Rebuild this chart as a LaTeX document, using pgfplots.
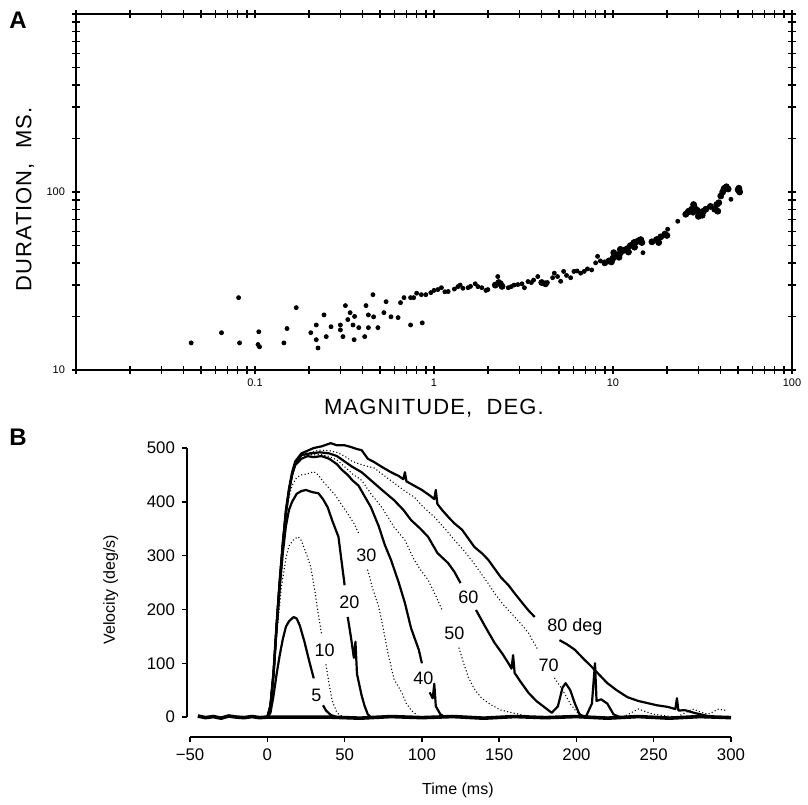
\documentclass[border=0pt]{standalone}
\usepackage{pgfplots}
\pgfplotsset{compat=1.18}
\usepackage{fontspec}
\setmainfont{Liberation Sans}
\newfontfamily\capsfont[LetterSpace=5]{Liberation Sans}

\begin{document}
\begin{tikzpicture}
\path (0,0) rectangle (404pt,-399.5pt);
\node[font=\bfseries\fontsize{12}{12}\selectfont] at (9pt,-10pt) {A};
\node[font=\bfseries\fontsize{12}{12}\selectfont] at (9pt,-218.5pt) {B};

% panel A: duration vs magnitude
\begin{axis}[
  at={(38pt,-7pt)}, anchor=north west,
  scale only axis, width=358pt, height=178pt,
  xmode=log, ymode=log,
  xmin=0.01, xmax=100, ymin=10, ymax=1000,
  xtick={0.01,0.1,1,10,100}, xticklabels={,0.1,1,10,100},
  ytick={10,100,1000}, yticklabels={10,100,},
  minor xtick={0.02,0.03,0.04,0.05,0.06,0.07,0.08,0.09,0.2,0.3,0.4,0.5,0.6,0.7,0.8,0.9,2,3,4,5,6,7,8,9,20,30,40,50,60,70,80,90},
  minor ytick={20,30,40,50,60,70,80,90,200,300,400,500,600,700,800,900},
  tick align=center, major tick length=4pt, minor tick length=4pt,
  tick style={line width=0.7pt, black},
  axis line style={line width=1pt},
  ticklabel style={font=\fontsize{5.5}{6}\selectfont},
  xticklabel style={yshift=1pt},
  xlabel={\capsfont MAGNITUDE,\ \ DEG.},
  ylabel={\capsfont DURATION,\ \ MS.},
  xlabel style={at={(axis description cs:0.5,-0.107)}, anchor=center, font=\fontsize{11}{11}\selectfont},
  ylabel style={at={(axis description cs:-0.071,0.48)}, anchor=center, font=\fontsize{11}{11}\selectfont},
]
\addplot[only marks, mark=*, mark size=1pt, black] coordinates {
 (0.081,25.5) (0.044,14.2) (0.065,16.2) (0.082,14.2) (0.105,16.4)
 (0.104,13.9) (0.106,13.5) (0.145,14.2) (0.151,17.1) (0.17,22.4)
 (0.205,16.2) (0.22,14.8) (0.225,13.3) (0.22,17.9) (0.243,20.4)
 (0.25,15.4) (0.266,17.5) (0.30,17.9) (0.31,15.4) (0.32,23)
 (0.33,19.2) (0.34,21) (0.353,17.9) (0.358,14.8) (0.38,17.3)
 (0.41,15.4) (0.417,23) (0.43,17.3) (0.43,20.4) (0.456,26.5)
 (0.46,19.9) (0.486,17.3) (0.525,21) (0.54,24.2) (0.575,19.9)
 (0.63,19.7) (0.65,23.9) (0.68,25.5) (0.74,17.9) (0.77,25.5)
 (0.86,18.4) (0.74,25.5) (0.85,26.5) (0.96,27.2) (1.05,28.3)
 (1.2,27.6) (1.36,29.4) (1.55,29) (1.76,29.4) (2.0,28.3)
 (2.27,33.5) (2.7,29.4) (2.94,30.2) (3.35,31.4) (3.8,33.5)
 (4.3,31) (4.7,35) (5.3,35.8) (6.05,35.8) (6.9,35.8)
 (8.2,43.5) (14.7,45.6) (20.2,61.8) (23,68.5) (45.6,91)
 (0.8,27) (0.9,26.5) (1.0,28) (1.1,29) (1.15,27.5) (1.3,28.5)
 (1.4,30) (1.45,28.8) (1.6,29.5) (1.7,30.5) (1.85,29) (1.95,28)
 (2.6,29) (2.8,30) (3.1,30.5) (3.2,29) (3.5,31) (3.6,32)
 (4.6,33) (4.9,33.5) (5.1,31.5) (5.5,34) (5.8,33) (6.3,36)
 (6.6,35) (7.2,37) (7.6,36.5) (8.0,40) (8.5,41) (0.36,20) (0.3,16.8)
};
\addplot[only marks, mark=*, mark size=1.5pt, black] coordinates {
 (2.2,30) (2.3,31) (2.4,29.5) (2.35,30.5) (4.0,31) (4.2,30.5)
 (9.0,40) (9.5,41) (10,42.5) (10.5,44) (11,45.5) (11.5,47) (12,48)
 (12.5,50) (13,51) (13.5,52.5) (14,53.5) (14.5,52) (9.8,40.5)
 (10.8,43) (12.2,46) (13.2,49) (10.1,45.6) (11,47.6) (13.1,52) (14.3,54)
 (16.5,52.5) (17.5,54) (18.5,56) (19.5,58) (17.8,54) (18,52) (20,57)
 (25.5,75) (26.2,77) (26.5,78) (27.5,80) (28.2,85) (28.5,82) (29.5,79)
 (30.5,76) (31,77) (31.5,74) (32,78) (33,80) (28,77) (30,73)
 (35,83) (37,80) (38,85) (39,87) (40,95) (41,100) (41.7,104)
 (42,105) (43,107) (44,104) (38.5,78) (50,103) (50.6,102) (51,100) (50.5,105)
};
\end{axis}

% panel B: velocity profiles
\begin{axis}[
  at={(93.5pt,-368.5pt)}, anchor=south west,
  scale only axis, width=272pt, height=144.5pt,
  xmin=-52, xmax=300, ymin=-37, ymax=500,
  axis lines=left, axis line style={draw=none},
  xtick={-50,0,50,100,150,200,250,300},
  xticklabels={−50,0,50,100,150,200,250,300},
  ytick={0,100,200,300,400,500},
  tick align=outside, major tick length=2.5pt,
  tick style={line width=0.7pt, black},
  ticklabel style={font=\fontsize{8.4}{9}\selectfont},
  /pgf/number format/assume math mode=true,
  xlabel={Time (ms)}, ylabel={Velocity (deg/s)},
  label style={font=\fontsize{8}{9}\selectfont},
  xlabel style={at={(axis description cs:0.498,-0.183)}, anchor=center},
  ylabel style={at={(axis description cs:-0.14,0.51)}, anchor=center},
  unbounded coords=jump,
  clip=false,
]
\draw[line width=0.75pt] (axis cs:-52,0) -- (axis cs:-52,500);
\draw[line width=0.75pt] (axis cs:-50,-37) -- (axis cs:300,-37);

\pgfplotsset{
  sol/.style={black, line width=1.1pt, line join=round},
  dot/.style={black, line width=0.75pt, line cap=round, dash pattern=on 0pt off 1.7pt},
}
% baseline
\addplot[black, line width=1.8pt] coordinates {
 (-45,2) (-40,-1) (-35,1) (-30,-2) (-25,2) (-20,0) (-15,-1) (-10,1) (-5,-1) (0,0)
 (40,0) (60,-2) (80,1) (100,-1) (120,1) (140,-2) (160,1) (180,-1) (200,1)
 (220,-2) (240,1) (260,-2) (280,1) (300,-1)
};
% 5 deg
\addplot[sol] coordinates {
 (0,0) (2,8) (4,40) (6,80) (8,115) (10,145) (12,168) (14,178) (17,186)
 (19,183) (21,170) (24,140) (27,105) (30,72) (32,nan) (36,22) (38,12) (41,4) (45,0)
};
% 10 deg
\addplot[dot] coordinates {
 (0,0) (3,40) (6,150) (9,240) (12,295) (14,318) (17,330) (20,335) (22,328)
 (25,305) (28,280) (31,230) (33,190) (35,156) (36,nan) (38,97) (40,60) (42,30) (45,8) (48,2)
};
% 20 deg
\addplot[sol] coordinates {
 (0,0) (2,20) (4,80) (6,165) (8,240) (10,305) (12,355) (14,385) (16,400)
 (19,415) (22,420) (25,422) (29,418) (33,416) (36,405) (39,390) (42,365)
 (46,335) (48,290) (50,245) (51,nan) (52,186) (54,150) (56,110) (57,140) (58,80)
 (61,40) (63,20) (65,5) (67,0)
};
% 30 deg
\addplot[dot] coordinates {
 (0,0) (2,20) (4,80) (6,168) (8,248) (10,315) (12,372) (14,410) (16,430)
 (19,445) (22,450) (26,452) (30,456) (33,450) (36,438) (40,425) (44,412)
 (48,395) (52,378) (56,360) (59,342) (62,nan) (65,273) (68,240) (72,205)
 (75,165) (78,119) (82,70) (87,45) (90,25) (93,13) (97,3)
};
% 40 deg
\addplot[sol] coordinates {
 (0,0) (2,20) (4,80) (6,170) (8,250) (10,320) (12,380) (14,420) (16,450)
 (18,468) (22,480) (26,485) (30,483) (35,485) (40,480) (45,470) (48,460)
 (52,450) (55,440) (59,430) (63,410) (67,390) (72,355) (76,320) (80,292)
 (85,250) (89,212) (93,165) (98,125) (100,100) (102,nan) (105,46) (107,35)
 (108,62) (109,20) (112,5) (115,0)
};
% 50 deg
\addplot[dot] coordinates {
 (0,0) (2,20) (4,80) (6,170) (8,250) (10,320) (12,380) (14,420) (16,450)
 (18,470) (22,485) (26,488) (30,487) (35,488) (40,484) (45,478) (50,465)
 (55,452) (61,440) (67,415) (74,390) (82,353) (89,329) (95,292) (100,270)
 (104,255) (109,225) (113,199) (118,nan) (124,128) (127,100) (130,74)
 (134,52) (138,37) (144,24) (151,13) (160,7) (168,2)
};
% 60 deg
\addplot[sol] coordinates {
 (0,0) (2,20) (4,80) (6,170) (8,250) (10,320) (12,380) (14,420) (16,450)
 (18,470) (22,487) (28,490) (34,492) (40,490) (45,485) (50,475) (55,465)
 (61,455) (69,435) (75,420) (82,403) (88,385) (93,366) (99,350) (104,335)
 (110,305) (117,286) (121,270) (125,249) (130,nan) (135,199) (141,168)
 (147,138) (152,118) (156,100) (158,90) (159,115) (160,82) (164,65) (169,45)
 (174,30) (179,19) (184,8) (188,20) (191,55) (193,63) (196,50) (199,25)
 (202,5) (206,0) (210,25) (212,100) (213,30) (216,33) (220,25) (224,5) (228,0)
};
% 70 deg
\addplot[dot] coordinates {
 (0,0) (2,20) (4,80) (6,170) (8,250) (10,320) (12,380) (14,420) (16,450)
 (18,470) (22,488) (28,492) (34,496) (40,495) (45,492) (50,485) (55,475)
 (62,468) (69,463) (75,450) (82,435) (88,422) (95,409) (101,390) (108,372)
 (115,350) (121,329) (127,310) (132,292) (138,268) (143,248) (147,230)
 (153,208) (160,186) (165,170) (169,156) (175,125) (180,nan) (186,72)
 (190,55) (193,40) (196,25) (200,10) (205,0) (230,0) (240,15) (250,5)
 (265,0) (275,15) (285,5) (292,15) (298,12)
};
% 80 deg
\addplot[sol] coordinates {
 (0,0) (2,22) (4,85) (6,175) (8,255) (10,325) (12,385) (14,425) (16,455)
 (18,475) (22,490) (26,495) (30,500) (35,503) (41,509) (45,505) (50,505)
 (54,502) (58,498) (61,496) (65,480) (69,474) (74,465) (80,455) (85,448)
 (88,442) (89,455) (90,438) (95,430) (100,422) (105,412) (108,405) (109,422)
 (110,396) (113,385) (117,372) (121,360) (126,348) (130,332) (134,316)
 (139,304) (143,292) (147,276) (151,260) (156,245) (160,230) (165,212)
 (169,198) (173,186) (180,nan) (189,143) (194,135) (199,125) (204,110)
 (210,93) (215,78) (220,63) (226,50) (233,37) (240,30) (246,26) (252,22)
 (259,19) (264,15) (265,35) (266,12) (270,13) (276,8) (282,4) (288,0)
};
\begin{scope}[every node/.style={font=\fontsize{9}{9}\selectfont}]
\node at (axis cs:31.7,41) {5};
\node at (axis cs:37,125) {10};
\node at (axis cs:53,214) {20};
\node at (axis cs:64,301) {30};
\node at (axis cs:101,72) {40};
\node at (axis cs:121,156) {50};
\node at (axis cs:130,223) {60};
\node at (axis cs:182,97) {70};
\node at (axis cs:199,167) {80 deg};
\end{scope}
\end{axis}
\end{tikzpicture}
\end{document}
